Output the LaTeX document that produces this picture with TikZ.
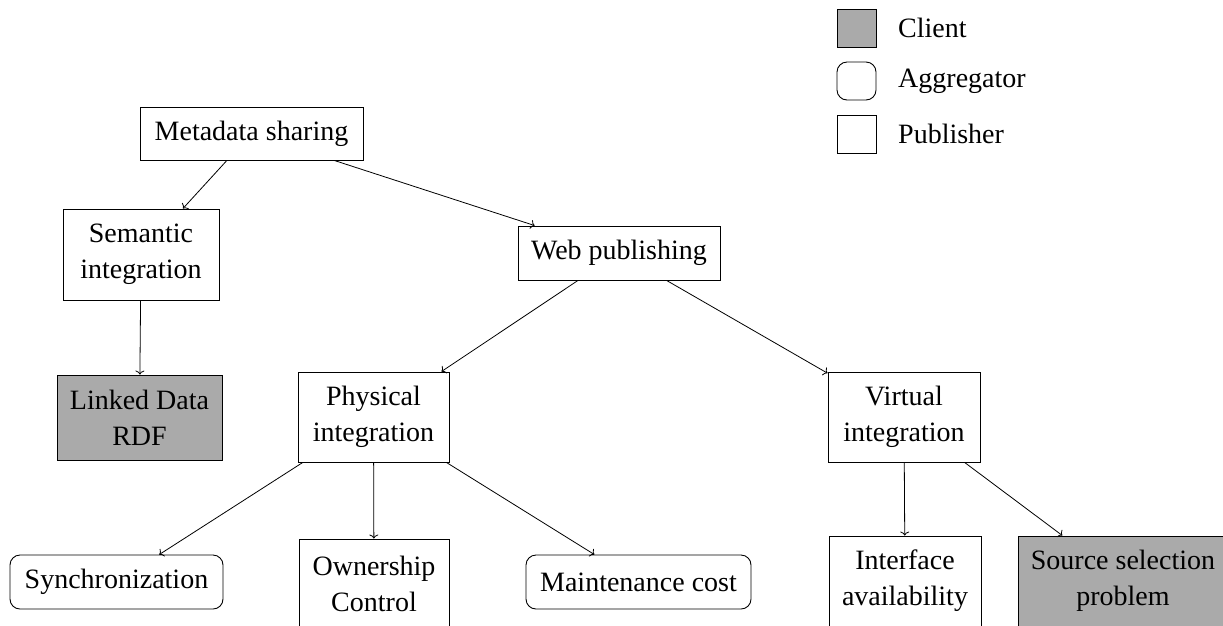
\documentclass[tikz,border=0pt]{standalone}
\usepackage{fontspec}
\setmainfont{Liberation Serif}
\usetikzlibrary{arrows.meta}
\definecolor{clientgray}{RGB}{170,170,170}
\begin{document}
\begin{tikzpicture}[x=1pt,y=1pt,
  font=\fontsize{28}{36}\selectfont,
  box/.style={draw, line width=0.9pt, align=center, inner sep=0pt},
  client/.style={box, fill=clientgray},
  aggr/.style={box, rounded corners=10pt},
  conn/.style={-{To[length=4pt,width=9pt]}, line width=0.8pt},
  lbl/.style={anchor=west, inner sep=0pt}]
\useasboundingbox (0,0) rectangle (1223,-625);
\clip (0,0) rectangle (1223,-625);
% nodes
\node[box, minimum width=223, minimum height=53] (meta) at (251.5,-133.5) {Metadata sharing};
\node[box, minimum width=156, minimum height=91] (sem) at (141,-254.5) {Semantic\\integration};
\node[box, minimum width=202, minimum height=54] (web) at (619,-253) {Web publishing};
\node[client, minimum width=165, minimum height=85] (lod) at (139.5,-417.5) {Linked Data\\RDF};
\node[box, minimum width=151, minimum height=90] (phys) at (373.5,-417) {Physical\\integration};
\node[box, minimum width=152, minimum height=90] (virt) at (904,-417) {Virtual\\integration};
\node[aggr, minimum width=213, minimum height=54] (sync) at (116.5,-582) {Synchronization};
\node[box, minimum width=150, minimum height=90] (own) at (374,-584) {Ownership\\Control};
\node[aggr, minimum width=225, minimum height=54] (maint) at (638.5,-582) {Maintenance cost};
\node[box, minimum width=152, minimum height=90] (iface) at (905,-581) {Interface\\availability};
\node[client, minimum width=210, minimum height=90] (src) at (1123,-581) {Source selection\\problem};
% connectors
\draw[conn] (meta) -- (sem);
\draw[conn] (meta) -- (web);
\draw[conn] (sem) -- (lod);
\draw[conn] (web) -- (phys);
\draw[conn] (web) -- (virt);
\draw[conn] (phys) -- (sync);
\draw[conn] (phys) -- (own);
\draw[conn] (phys) -- (maint);
\draw[conn] (virt) -- (iface);
\draw[conn] (virt) -- (src);
% legend
\node[client, minimum width=39, minimum height=38] (lc) at (856.5,-28) {};
\node[aggr, minimum width=39, minimum height=38] (la) at (856.5,-81) {};
\node[box, minimum width=39, minimum height=38] (lp) at (856.5,-134) {};
\node[lbl] (lct) at (898,-28) {Client};
\node[lbl] (lat) at (898,-81) {Aggregator};
\node[lbl] (lpt) at (898,-134) {Publisher};
\end{tikzpicture}
\end{document}
